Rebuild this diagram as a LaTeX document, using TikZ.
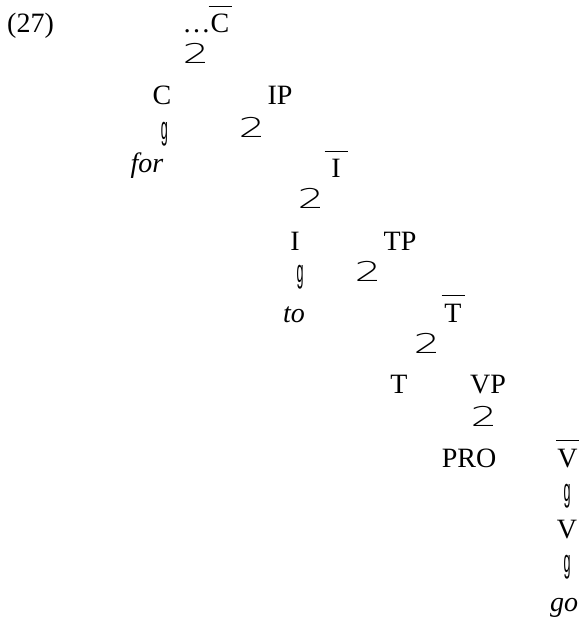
\documentclass[tikz,border=0pt]{standalone}
\usepackage{graphicx}
\usepackage{fontspec}
\setmainfont{Liberation Serif}
\newfontfamily\brfont{DejaVu Sans ExtraLight}
\newfontfamily\gfont{Liberation Sans}
\newcommand\twobr{\scalebox{1.5}[0.97]{\brfont 2}}
\newcommand\onebr{\scalebox{0.45}[1.15]{\gfont g}}
\newcommand\barred[1]{\setbox0=\hbox{#1}\hbox{\rlap{\hbox to\wd0{\hss\raisebox{26pt}{\rule{23pt}{1pt}}\hss}}\box0}}
\begin{document}
\begin{tikzpicture}[x=1pt,y=-1pt,
  lab/.style={inner sep=0pt, anchor=base, font=\fontsize{28}{32}\selectfont},
  br/.style={inner sep=0pt, anchor=center, font=\fontsize{28}{32}\selectfont},
]
\useasboundingbox (0,0) rectangle (579,620);
\node[lab, anchor=base west] (ex) at (7,33) {(27)};
\node[lab] (cbar) at (206,33) {\ldots\barred{C}};
\node[br] (b1) at (196,53) {\twobr};
\node[lab] (c) at (162,105) {C};
\node[lab] (ip) at (280,105) {IP};
\node[br] (g1) at (164.5,134) {\onebr};
\node[br] (b2) at (252,127) {\twobr};
\node[lab] (for) at (147,173) {\textit{for}};
\node[lab] (ibar) at (336,178) {\barred{I}};
\node[br] (b3) at (311,198) {\twobr};
\node[lab] (i) at (295,250) {I};
\node[lab] (tp) at (400,250) {TP};
\node[br] (g2) at (300,277) {\onebr};
\node[br] (b4) at (368,271) {\twobr};
\node[lab] (to) at (294,322) {\textit{to}};
\node[lab] (tbar) at (453,322) {\barred{T}};
\node[br] (b5) at (427,343) {\twobr};
\node[lab] (t) at (399,393) {T};
\node[lab] (vp) at (488,393) {VP};
\node[br] (b6) at (484,416) {\twobr};
\node[lab] (pro) at (469,467) {PRO};
\node[lab] (vbar) at (567.5,467) {\barred{V}};
\node[br] (g3) at (567,496) {\onebr};
\node[lab] (v) at (567,538) {V};
\node[br] (g4) at (567,567.5) {\onebr};
\node[lab] (go) at (564,611) {\textit{go}};
\end{tikzpicture}
\end{document}
